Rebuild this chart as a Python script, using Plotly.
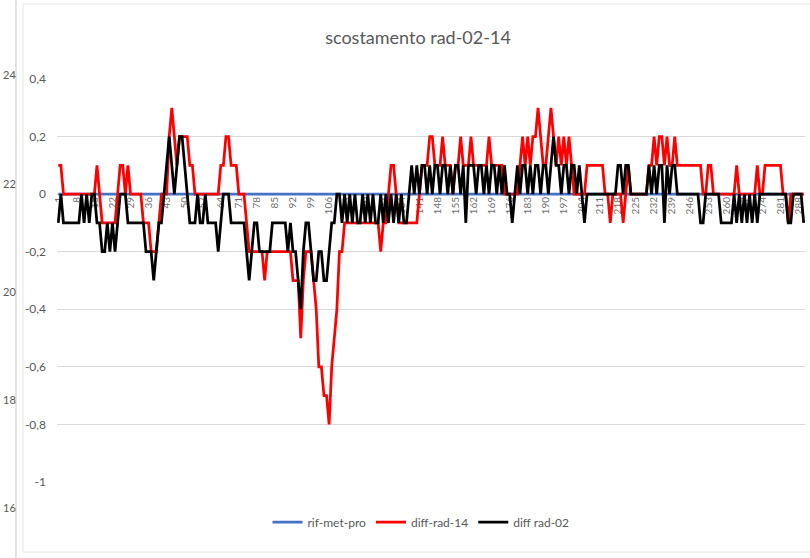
import plotly.graph_objects as go

categories = list(range(1, 291))

rif_met_pro = [0.0] * 290

diff_rad_14 = [
    0.1, 0.1, 0, 0, 0, 0, 0, 0, 0, 0,
    0, 0, 0, 0, 0, 0.1, 0, -0.1, -0.1, -0.1,
    -0.1, -0.1, -0.1, 0, 0.1, 0.1, 0, 0.1, 0, 0,
    0, 0, 0, -0.1, -0.1, -0.1, -0.2, -0.2, -0.2, -0.1,
    0, 0, 0, 0.2, 0.3, 0.2, 0.1, 0.2, 0.2, 0.2,
    0.2, 0.1, 0.1, 0, 0, 0, 0, 0, 0, 0,
    0, 0, 0, 0.1, 0.1, 0.2, 0.2, 0.1, 0.1, 0.1,
    0, 0, 0, -0.1, -0.2, -0.2, -0.2, -0.2, -0.2, -0.2,
    -0.3, -0.2, -0.2, -0.2, -0.2, -0.2, -0.2, -0.2, -0.2, -0.2,
    -0.2, -0.3, -0.3, -0.3, -0.5, -0.3, -0.2, -0.2, -0.2, -0.3,
    -0.4, -0.6, -0.6, -0.7, -0.7, -0.8, -0.6, -0.5, -0.4, -0.2,
    -0.2, -0.1, -0.1, -0.1, -0.1, -0.1, -0.1, -0.1, -0.1, -0.1,
    -0.1, -0.1, -0.1, -0.1, -0.1, -0.2, -0.1, -0.1, 0, 0.1,
    0.1, 0, -0.1, -0.1, -0.1, -0.1, -0.1, -0.1, -0.1, -0.1,
    0, 0.1, 0.1, 0.1, 0.2, 0.2, 0.1, 0.1, 0.1, 0.2,
    0.1, 0.1, 0.1, 0, 0.1, 0.1, 0.2, 0.1, 0.1, 0.1,
    0.2, 0.1, 0.1, 0.1, 0.1, 0.1, 0.1, 0.2, 0.1, 0.1,
    0.1, 0.1, 0.1, 0, 0, 0, 0, 0, 0, 0.1,
    0.2, 0.1, 0.2, 0.1, 0.2, 0.2, 0.3, 0.2, 0.1, 0.1,
    0.2, 0.3, 0.2, 0.1, 0.2, 0.1, 0.2, 0.1, 0.2, 0.1,
    0, 0, 0, 0, 0, 0.1, 0.1, 0.1, 0.1, 0.1,
    0.1, 0.1, 0, 0, -0.1, 0, 0, 0, 0, -0.1,
    0, 0.1, 0, 0, 0, 0, 0, 0, 0, 0.1,
    0.1, 0.2, 0.1, 0.2, 0.2, 0.1, 0.2, 0.1, 0.1, 0.2,
    0.1, 0.1, 0.1, 0.1, 0.1, 0.1, 0.1, 0.1, 0.1, 0.1,
    0, 0, 0.1, 0.1, 0, 0, 0, 0, 0, 0,
    0, 0, 0, 0.1, 0, 0, 0, 0, 0, 0,
    0, 0.1, 0, 0, 0.1, 0.1, 0.1, 0.1, 0.1, 0.1,
    0.1, 0, 0, -0.1, 0, 0, 0, 0, 0, 0,
]

diff_rad_02 = [
    -0.1, 0, -0.1, -0.1, -0.1, -0.1, -0.1, -0.1, -0.1, 0,
    -0.1, 0, -0.1, 0, 0, -0.1, -0.1, -0.2, -0.2, -0.1,
    -0.2, -0.1, -0.2, -0.1, 0, 0, 0, -0.1, -0.1, -0.1,
    -0.1, -0.1, -0.1, -0.1, -0.2, -0.2, -0.2, -0.3, -0.2, -0.1,
    -0.1, 0, 0.1, 0.2, 0.1, 0, 0.1, 0.2, 0.2, 0.1,
    0, -0.1, -0.1, -0.1, 0, -0.1, -0.1, 0, -0.1, -0.1,
    -0.1, -0.1, -0.2, -0.1, 0, 0, 0, -0.1, -0.1, -0.1,
    -0.1, -0.1, -0.1, -0.2, -0.3, -0.2, -0.1, -0.1, -0.2, -0.2,
    -0.2, -0.2, -0.2, -0.1, -0.1, -0.1, -0.1, -0.1, -0.1, -0.2,
    -0.1, -0.2, -0.2, -0.3, -0.4, -0.2, -0.1, -0.1, -0.2, -0.3,
    -0.3, -0.2, -0.2, -0.3, -0.3, -0.2, -0.1, -0.1, 0, 0,
    -0.1, 0, -0.1, 0, -0.1, 0, -0.1, -0.1, 0, -0.1,
    0, -0.1, 0, -0.1, -0.1, 0, -0.1, 0, -0.1, 0,
    -0.1, 0, -0.1, 0, -0.1, -0.1, 0, 0.1, 0, 0.1,
    0, 0.1, 0.1, 0, 0.1, 0, 0.1, 0.1, 0, 0.1,
    0.1, 0, 0.1, 0, 0.1, 0.1, 0, 0.1, -0.1, 0.1,
    0.1, 0.1, 0, 0.1, 0.1, 0, 0.1, 0, 0.1, 0.1,
    0, 0.1, 0, 0.1, 0, 0, -0.1, 0, 0.1, 0,
    0.1, 0.1, 0, 0.1, 0, 0.1, 0.1, 0, 0.1, 0.1,
    0, 0.1, 0.2, 0.1, 0.1, 0, 0.1, 0.1, 0, 0.1,
    0.1, 0, 0.1, 0, -0.1, 0, 0, 0, 0, 0,
    0, 0, 0, 0, 0, 0, 0, 0.1, 0.1, 0,
    0.1, 0.1, 0, 0, 0, 0, 0, 0, 0, 0.1,
    0, 0.1, 0, 0.1, 0.1, -0.1, 0.1, 0, 0.1, 0.1,
    0, 0, 0, 0, 0, 0, 0, 0, 0, -0.1,
    -0.1, 0, 0, 0, 0, 0, 0, -0.1, -0.1, -0.1,
    -0.1, -0.1, 0, -0.1, 0, -0.1, 0, -0.1, 0, -0.1,
    0, -0.1, 0, 0, 0, 0, 0, 0, 0, 0,
    0, 0, 0, -0.1, -0.1, 0, 0, 0, 0, -0.1,
]

x_tick_labels = [1, 8, 15, 22, 29, 36, 43, 50, 57, 64, 71, 78, 85, 92, 99, 106,
                 113, 120, 127, 134, 141, 148, 155, 162, 169, 176, 183, 190, 197,
                 204, 211, 218, 225, 232, 239, 246, 253, 260, 267, 274, 281, 288]
y_tick_values = [-1, -0.8, -0.6, -0.4, -0.2, 0, 0.2, 0.4]
y_tick_labels = ["-1", "-0,8", "-0,6", "-0,4", "-0,2", "0", "0,2", "0,4"]
side_labels = ["24", "22", "20", "18", "16"]

FONT = "Lato, 'Open Sans', sans-serif"
GREY = "#595959"

fig = go.Figure()
fig.add_trace(go.Scatter(x=categories, y=rif_met_pro, mode="lines", name="rif-met-pro",
                         line=dict(color="#4472C4", width=2.75)))
fig.add_trace(go.Scatter(x=categories, y=diff_rad_14, mode="lines", name="diff-rad-14",
                         line=dict(color="#FF0000", width=2.75)))
fig.add_trace(go.Scatter(x=categories, y=diff_rad_02, mode="lines", name="diff rad-02",
                         line=dict(color="#000000", width=2.75)))

W, H = 810, 558
L, R, T, B = 57, 5, 79, 76
pw, ph = W - L - R, H - T - B

def px_x(px):
    return (px - L) / pw

def px_y(py):
    return (H - B - py) / ph

annotations = []
for lab, py in zip(side_labels, [75, 183, 291, 399, 507]):
    annotations.append(dict(text=lab, xref="paper", yref="paper", x=px_x(1), y=px_y(py),
                            xanchor="left", yanchor="middle", showarrow=False,
                            font=dict(family=FONT, size=11, color=GREY)))

shapes = [
    dict(type="line", xref="paper", yref="paper", x0=px_x(16), x1=px_x(16),
         y0=px_y(0), y1=px_y(558), line=dict(color="#c8c8c8", width=1)),
    dict(type="rect", xref="paper", yref="paper", x0=px_x(23), x1=px_x(815),
         y0=px_y(4), y1=px_y(552), line=dict(color="#e6e6e6", width=1)),
]

fig.update_layout(
    width=W, height=H,
    margin=dict(l=L, r=R, t=T, b=B),
    paper_bgcolor="white", plot_bgcolor="white",
    title=dict(text="scostamento rad-02-14", x=px_x(418), xref="paper", xanchor="center",
               y=1 - 38 / H, yanchor="middle",
               font=dict(family=FONT, size=18, color=GREY)),
    showlegend=True,
    legend=dict(orientation="h", x=px_x(421), xanchor="center", y=px_y(522), yanchor="middle",
                font=dict(family=FONT, size=12, color=GREY), bgcolor="rgba(0,0,0,0)",
                itemwidth=30, tracegroupgap=0),
    annotations=annotations,
    shapes=shapes,
    xaxis=dict(range=[0.5, 290.5], tickmode="array", tickvals=x_tick_labels,
               ticktext=[str(v) for v in x_tick_labels], tickangle=-90,
               tickfont=dict(family=FONT, size=10, color="#6e6e6e"),
               showgrid=False, zeroline=False, showline=False, ticks="",
               anchor="free", position=px_y(194), layer="below traces"),
    yaxis=dict(range=[-1, 0.4], tickmode="array", tickvals=y_tick_values,
               ticktext=y_tick_labels, tickfont=dict(family=FONT, size=12, color=GREY),
               showgrid=True, gridcolor="#d9d9d9", gridwidth=1, zeroline=False,
               showline=False, ticks="", ticklabelstandoff=10),
)

fig.write_html("out.html", config={"displayModeBar": False},
               post_script="document.body.style.margin='0px';")
